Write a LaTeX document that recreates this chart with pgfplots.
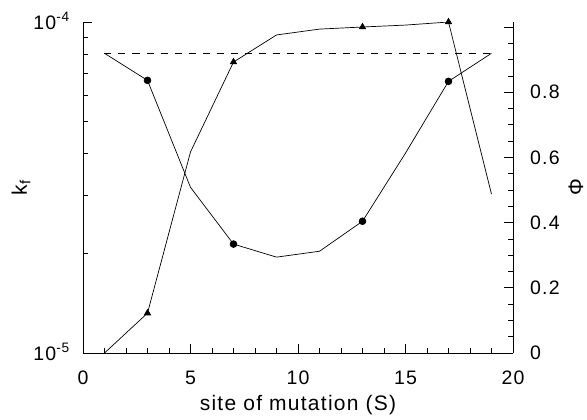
\documentclass[border=0pt]{standalone}
\usepackage{fontspec}
\setmainfont{Liberation Sans}[LetterSpace=6]
\usepackage{pgfplots}
\pgfplotsset{compat=1.18}
\begin{document}
\begin{tikzpicture}
\pgfplotsset{
  common/.style={
    scale only axis, width=430pt, height=331pt,
    xmin=0, xmax=20,
    tick label style={font=\fontsize{19.5}{21}\selectfont, inner sep=0pt},
    tick align=inside,
    major tick length=9pt, minor tick length=5pt,
    axis line style={-, line width=0.8pt},
    tick style={line width=0.6pt, black},
    /pgf/number format/assume math mode=true,
  }
}
\begin{axis}[common, name=ax,
  ymode=log, ymin=1e-5, ymax=1e-4,
  axis x line*=bottom, axis y line*=left,
  xtick={0,5,10,15,20}, xticklabels={0,5,10,15,20},
  minor xtick={1,2,3,4,6,7,8,9,11,12,13,14,16,17,18,19},
  ytick={1e-5,1e-4}, yticklabels={10\textsuperscript{-5},10\textsuperscript{-4}},
  minor ytick={2e-5,3e-5,4e-5,5e-5,6e-5,7e-5,8e-5,9e-5},
  xlabel={site of mutation (S)},
  ylabel={k\textsubscript{f}},
  xticklabel style={anchor=center, yshift=-25pt},
  yticklabel style={anchor=base east, xshift=-13pt, yshift=-7pt},
  every axis x label/.style={at={(rel axis cs:0.5,0)}, yshift=-52pt, anchor=center, font=\fontsize{21}{23}\selectfont},
  every axis y label/.style={at={(rel axis cs:0,0.5)}, xshift=-62pt, rotate=90, anchor=center, inner sep=0pt, font=\fontsize{21}{23}\selectfont},
]
\addplot[black, line width=0.7pt, mark=triangle*, mark size=3.6pt,
  mark indices={2,4,7,9}] coordinates {
  (1,1.0e-5) (3,1.32e-5) (5,4.05e-5) (7,7.57e-5) (9,9.14e-5)
  (11,9.52e-5) (13,9.66e-5) (15,9.79e-5) (17,1.0e-4) (19,3.02e-5)};
\end{axis}
\begin{axis}[common,
  ymin=0, ymax=1.015,
  axis x line=none, axis y line*=right,
  ytick={0,0.2,0.4,0.6,0.8,1.0}, yticklabels={0,0.2,0.4,0.6,0.8,{}},
  minor ytick={0.05,0.1,0.15,0.25,0.3,0.35,0.45,0.5,0.55,0.65,0.7,0.75,0.85,0.9,0.95},
  ylabel={Φ},
  yticklabel style={anchor=west, xshift=17pt},
  every axis y label/.style={at={(rel axis cs:1,0.5)}, xshift=63pt, rotate=90, anchor=center, inner sep=0pt, font=\fontsize{21}{23}\selectfont},
]
\addplot[black, line width=0.7pt, dash pattern=on 7pt off 7pt] coordinates {(1,0.919) (19,0.919)};
\addplot[black, line width=0.7pt, mark=*, mark size=3.4pt,
  mark indices={2,4,7,9}] coordinates {
  (1,0.919) (3,0.836) (5,0.508) (7,0.334) (9,0.294)
  (11,0.312) (13,0.404) (15,0.613) (17,0.833) (19,0.919)};
\end{axis}
\pgfresetboundingbox
\path[use as bounding box] ([xshift=-83pt,yshift=-66pt]ax.south west) rectangle ([xshift=74pt,yshift=22pt]ax.north east);
\end{tikzpicture}
\end{document}
